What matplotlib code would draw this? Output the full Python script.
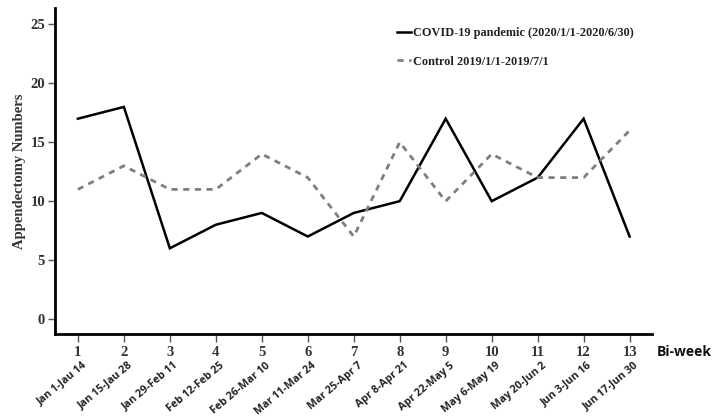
import matplotlib
matplotlib.use("Agg")
import matplotlib.pyplot as plt
import matplotlib.transforms as mtransforms

biweeks = list(range(1, 14))
date_labels = ["Jan 1-Jau 14", "Jan 15-Jau 28", "Jan 29-Feb 11", "Feb 12-Feb 25",
               "Feb 26-Mar 10", "Mar 11-Mar 24", "Mar 25-Apr 7", "Apr 8-Apr 21",
               "Apr 22-May 5", "May 6-May 19", "May 20-Jun 2", "Jun 3-Jun 16",
               "Jun 17-Jun 30"]
covid = [17, 18, 6, 8, 9, 7, 9, 10, 17, 10, 12, 17, 7]
control = [11, 13, 11, 11, 14, 12, 7, 15, 10, 14, 12, 12, 16]
yticks = [0, 5, 10, 15, 20, 25]

serif = "Liberation Serif"
sans = "Open Sans"

fig = plt.figure(figsize=(7.13, 4.19), dpi=100)
ax = fig.add_axes([0.077, 0.203, 0.837, 0.778])

ax.plot(biweeks, covid, color="black", lw=1.8, solid_joinstyle="miter",
        label="COVID-19 pandemic (2020/1/1-2020/6/30)")
ax.plot(biweeks, control, color="#7f7f7f", lw=2.0, dashes=(2.2, 2.0),
        label="Control 2019/1/1-2019/7/1")

ax.set_xlim(0.5, 13.48)
ax.set_ylim(-1.27, 26.4)
ax.set_yticks(yticks)
ax.set_xticks(biweeks)
ax.set_xticklabels([str(b) for b in biweeks], fontfamily=serif, fontweight="bold", fontsize=10.5)
ax.set_yticklabels([str(t) for t in yticks], fontfamily=serif, fontweight="bold", fontsize=10.5,
                   color="#333333")
for lab in ax.get_xticklabels():
    lab.set_color("#333333")

for s in ["top", "right"]:
    ax.spines[s].set_visible(False)
for s in ["left", "bottom"]:
    ax.spines[s].set_linewidth(2.0)
ax.tick_params(axis="x", direction="out", length=6, width=1, color="#555555", pad=3)
ax.tick_params(axis="y", direction="out", length=5, width=1, color="#555555", pad=2)

ax.set_ylabel("Appendectomy Numbers", fontfamily=serif, fontweight="bold", fontsize=10.5,
              color="#333333", labelpad=3)

# rotated date labels
trans = mtransforms.blended_transform_factory(ax.transData, fig.transFigure)
for b, d in zip(biweeks, date_labels):
    ax.text(b + 0.08, 1 - 360 / 419, d, transform=trans, rotation=40,
            ha="right", va="top", rotation_mode="anchor",
            fontfamily=sans, fontweight="bold", fontsize=7.7, color="#222222")

fig.text(657 / 713, 1 - 352 / 419, "Bi-week", fontfamily=sans, fontweight="bold",
         fontsize=10, ha="left", va="center", color="#111111")

leg = ax.legend(loc="upper left", bbox_to_anchor=(0.555, 0.975), frameon=False,
                prop={"family": serif, "weight": "bold", "size": 8.8},
                handlelength=1.1, handletextpad=0.2, labelspacing=1.35)
for t in leg.get_texts():
    t.set_color("#222222")

fig.savefig("out.png", dpi=100)
